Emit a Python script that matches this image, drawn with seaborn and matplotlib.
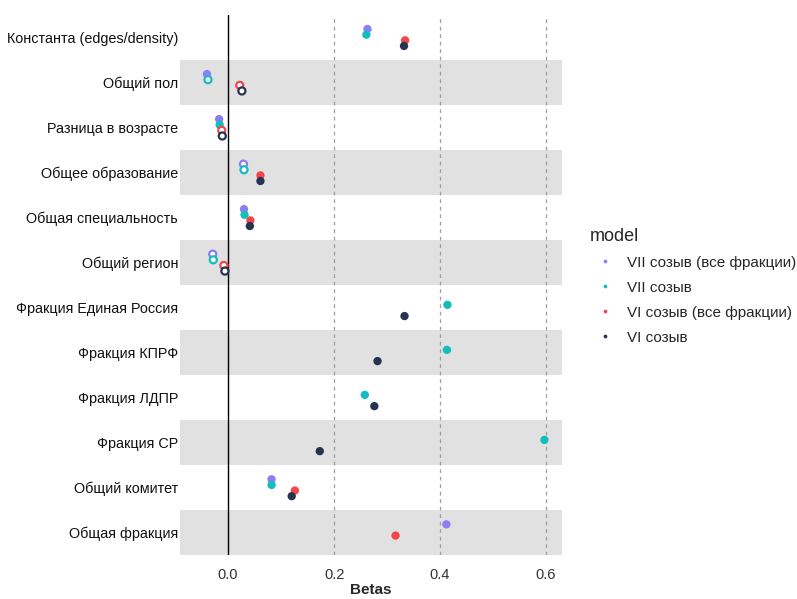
import numpy as np
import pandas as pd
import seaborn as sns
import matplotlib.pyplot as plt

OUTPUT_IMAGE = 'out.png'

terms = ['Константа (edges/density)', 'Общий пол', 'Разница в возрасте',
         'Общее образование', 'Общая специальность', 'Общий регион',
         'Фракция Единая Россия', 'Фракция КПРФ', 'Фракция ЛДПР',
         'Фракция СР', 'Общий комитет', 'Общая фракция']
models = ['VII созыв (все фракции)', 'VII созыв',
          'VI созыв (все фракции)', 'VI созыв']
colors = ['#8E7CF7', '#14BDBD', '#F5474B', '#283350']

nan = np.nan
# betas per model, in the order of terms
beta_vii_all = [0.263, -0.040, -0.017, 0.029, 0.030, -0.029, nan, nan, nan, nan, 0.082, 0.412]
beta_vii = [0.261, -0.038, -0.016, 0.030, 0.031, -0.028, 0.414, 0.413, 0.258, 0.597, 0.082, nan]
beta_vi_all = [0.334, 0.022, -0.012, 0.061, 0.042, -0.008, nan, nan, nan, nan, 0.126, 0.316]
beta_vi = [0.332, 0.026, -0.011, 0.061, 0.041, -0.006, 0.333, 0.282, 0.276, 0.173, 0.120, nan]

# significant (filled) or not (hollow)
sig_vii_all = [1, 1, 1, 0, 1, 0, 0, 0, 0, 0, 1, 1]
sig_vii = [1, 0, 1, 0, 1, 0, 1, 1, 1, 1, 1, 0]
sig_vi_all = [1, 0, 0, 1, 1, 0, 0, 0, 0, 0, 1, 1]
sig_vi = [1, 0, 0, 1, 1, 0, 1, 1, 1, 1, 1, 0]

betas = [beta_vii_all, beta_vii, beta_vi_all, beta_vi]
sigs = [sig_vii_all, sig_vii, sig_vi_all, sig_vi]
dodge = [-0.1875, -0.0625, 0.0625, 0.1875]

rows = []
for m, b, s, d in zip(models, betas, sigs, dodge):
    for i, t in enumerate(terms):
        if not np.isnan(b[i]):
            rows.append({'term': t, 'model': m, 'beta': b[i],
                         'sig': bool(s[i]), 'pos': i + d})
df = pd.DataFrame(rows)

sns.set_theme(style='white')
plt.rcParams['font.family'] = ['Liberation Sans', 'DejaVu Sans']

fig, ax = plt.subplots(figsize=(7.97, 5.99), dpi=100)
fig.subplots_adjust(left=0.226, right=0.705, top=0.975, bottom=0.073)

# alternating row bands
for i in range(1, len(terms), 2):
    ax.axhspan(i - 0.5, i + 0.5, color='#E1E1E1', lw=0, zorder=0)

for xv in [0.2, 0.4, 0.6]:
    ax.axvline(xv, color='#9E9E9E', ls=(0, (3, 3)), lw=0.9, zorder=1)
ax.axvline(0, color='black', lw=1.0, zorder=1)

pal = dict(zip(models, colors))
sns.scatterplot(data=df[df['sig']], x='beta', y='pos', hue='model',
                hue_order=models, palette=pal, s=36, linewidth=0,
                ax=ax, zorder=3)
n_before = len(ax.collections)
sns.scatterplot(data=df[~df['sig']], x='beta', y='pos', hue='model',
                hue_order=models, palette=pal, s=26, linewidth=1.6,
                legend=False, ax=ax, zorder=3)
hollow = ax.collections[n_before]
hollow.set_edgecolors(hollow.get_facecolors())
hollow.set_facecolor('white')

ax.set_xlim(-0.0906, 0.630)
ax.set_ylim(len(terms) - 0.5, -0.5)
ax.set_yticks(range(len(terms)))
ax.set_yticklabels(terms)
ax.set_xticks([0.0, 0.2, 0.4, 0.6])
ax.set_xticklabels(['0.0', '0.2', '0.4', '0.6'])
ax.tick_params(axis='y', length=0, labelsize=10.4, colors='#111111', pad=1.5)
ax.tick_params(axis='x', length=0, labelsize=10.5, colors='#333333', pad=9)
ax.set_xlabel('Betas', fontsize=11, fontweight='bold', labelpad=1)
ax.set_ylabel('')
ax.grid(False)
for sp in ax.spines.values():
    sp.set_visible(False)

handles, labels = ax.get_legend_handles_labels()
leg = ax.legend(handles, labels, title='model', loc='upper left',
                bbox_to_anchor=(0.723, 0.643), bbox_transform=fig.transFigure,
                frameon=False, fontsize=11, title_fontsize=13,
                markerscale=0.45, labelspacing=0.72, handletextpad=0.4)
leg._legend_box.align = 'left'

plt.savefig(OUTPUT_IMAGE, dpi=100)
